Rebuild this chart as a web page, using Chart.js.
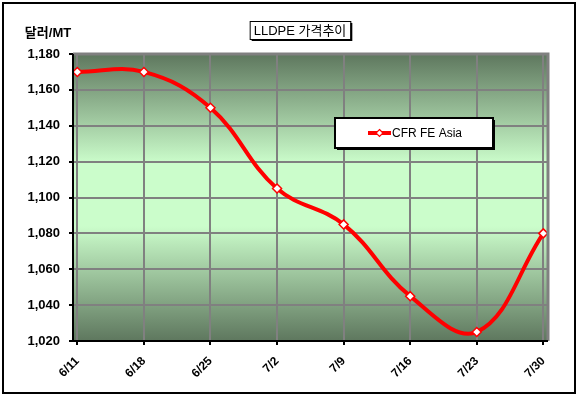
<!DOCTYPE html>
<html>
<head>
<meta charset="utf-8">
<script src="https://cdn.jsdelivr.net/npm/chart.js@4"></script>
<style>
  html, body { margin: 0; padding: 0; background: #fff; }
  #wrap { width: 578px; height: 398px; position: relative; }
</style>
</head>
<body>
<div id="wrap"><canvas id="lineChart" width="578" height="398"></canvas></div>
<script>
// 데이터
var categories = ["6/11", "6/18", "6/25", "7/2", "7/9", "7/16", "7/23", "7/30"];
var cfrFeAsia = [1170, 1170, 1150, 1105, 1085, 1045, 1025, 1080];
var yTicks = [1020, 1040, 1060, 1080, 1100, 1120, 1140, 1160, 1180];
var chartTitle = "LLDPE 가격추이";
var yTitle = "달러/MT";
var seriesName = "CFR FE Asia";

var FONT = "Arial, 'Liberation Sans', 'Noto Sans CJK KR', sans-serif";

// 배경, 테두리, 제목, 범례
var decor = {
    id: 'decor',
    beforeDraw: function (chart) {
        var c = chart.ctx, a = chart.chartArea;
        c.save();
        c.fillStyle = '#fff';
        c.fillRect(0, 0, chart.width, chart.height);
        c.strokeStyle = '#000';
        c.lineWidth = 2;
        c.strokeRect(3, 3, 572, 390);
        var g = c.createLinearGradient(0, a.top, 0, a.bottom);
        g.addColorStop(0, '#5e775e');
        g.addColorStop(0.38, '#cbfdcb');
        g.addColorStop(0.6, '#cbfdcb');
        g.addColorStop(1, '#5e775e');
        c.fillStyle = g;
        c.fillRect(a.left, a.top, a.right - a.left, a.bottom - a.top);
        c.restore();
    },
    afterDatasetsDraw: function (chart) {
        var c = chart.ctx, a = chart.chartArea;
        c.save();
        // 그림 영역 테두리
        c.strokeStyle = '#808080';
        c.lineWidth = 3;
        c.beginPath();
        c.moveTo(a.left, a.top); c.lineTo(a.right, a.top); c.lineTo(a.right, a.bottom);
        c.stroke();
        c.strokeStyle = '#000';
        c.lineWidth = 2;
        c.beginPath();
        c.moveTo(a.left, a.top); c.lineTo(a.left, a.bottom); c.lineTo(a.right, a.bottom);
        c.stroke();

        // 제목 박스
        c.font = '13px ' + FONT;
        var tw = c.measureText(chartTitle).width;
        var bx = 300 - tw / 2 - 4, by = 21, bw = tw + 8, bh = 18;
        c.fillStyle = '#000';
        c.fillRect(bx + 2, by + 2, bw, bh);
        c.fillStyle = '#fff';
        c.fillRect(bx, by, bw, bh);
        c.lineWidth = 1;
        c.strokeRect(bx + 0.5, by + 0.5, bw, bh);
        c.fillStyle = '#000';
        c.textAlign = 'center';
        c.textBaseline = 'middle';
        c.fillText(chartTitle, 300, by + bh / 2 + 1);

        // y축 제목
        c.font = 'bold 13px ' + FONT;
        c.fillText(yTitle, 48, 33);

        // 범례
        var lx = 335, ly = 118, lw = 158, lh = 30;
        c.fillStyle = '#000';
        c.fillRect(lx + 2, ly + 2, lw, lh);
        c.fillStyle = '#fff';
        c.fillRect(lx, ly, lw, lh);
        c.lineWidth = 2;
        c.strokeRect(lx, ly, lw, lh);
        c.strokeStyle = '#ff0000';
        c.lineWidth = 4;
        c.beginPath();
        c.moveTo(368, 133); c.lineTo(391, 133);
        c.stroke();
        c.fillStyle = '#fff';
        c.lineWidth = 1.2;
        c.beginPath();
        c.moveTo(379.5, 129.5); c.lineTo(383, 133); c.lineTo(379.5, 136.5); c.lineTo(376, 133);
        c.closePath();
        c.fill(); c.stroke();
        c.fillStyle = '#000';
        c.font = '12px ' + FONT;
        c.textAlign = 'left';
        c.fillText(seriesName, 392, 134);
        c.restore();
    }
};

var ctx = document.getElementById('lineChart').getContext('2d');

new Chart(ctx, {
    type: 'line',
    data: {
        datasets: [{
            label: seriesName,
            data: cfrFeAsia.map(function (v, i) { return { x: i, y: v }; }),
            borderColor: '#ff0000',
            borderWidth: 4,
            tension: 0.4,
            fill: false,
            pointStyle: 'rectRot',
            pointRadius: 4.5,
            pointBackgroundColor: '#fff',
            pointBorderColor: '#ff0000',
            pointBorderWidth: 1.5
        }]
    },
    options: {
        responsive: false,
        animation: false,
        layout: { padding: { top: 54, right: 30, bottom: 0, left: 0 } },
        plugins: { legend: { display: false }, tooltip: { enabled: false } },
        scales: {
            x: {
                type: 'linear',
                min: -0.065,
                max: 7.07,
                afterBuildTicks: function (axis) {
                    axis.ticks = categories.map(function (c, i) { return { value: i }; });
                },
                afterFit: function (axis) { axis.height = 57; },
                border: { display: false },
                grid: { color: '#808080', lineWidth: 2, tickColor: '#000', tickLength: 4 },
                ticks: {
                    autoSkip: false,
                    minRotation: 45,
                    maxRotation: 45,
                    padding: 9,
                    color: '#000',
                    font: { family: FONT, size: 12, weight: 'bold' },
                    callback: function (v) { return categories[v]; }
                }
            },
            y: {
                min: yTicks[0],
                max: yTicks[yTicks.length - 1],
                afterBuildTicks: function (axis) {
                    axis.ticks = yTicks.map(function (v) { return { value: v }; });
                },
                afterFit: function (axis) { axis.width = 73; },
                border: { display: false },
                grid: { color: '#808080', lineWidth: 2, tickColor: '#000', tickLength: 4 },
                ticks: {
                    padding: 9,
                    color: '#000',
                    font: { family: FONT, size: 13, weight: 'bold' },
                    callback: function (v) { return v.toLocaleString('en-US'); }
                }
            }
        }
    },
    plugins: [decor]
});
</script>
</body>
</html>
